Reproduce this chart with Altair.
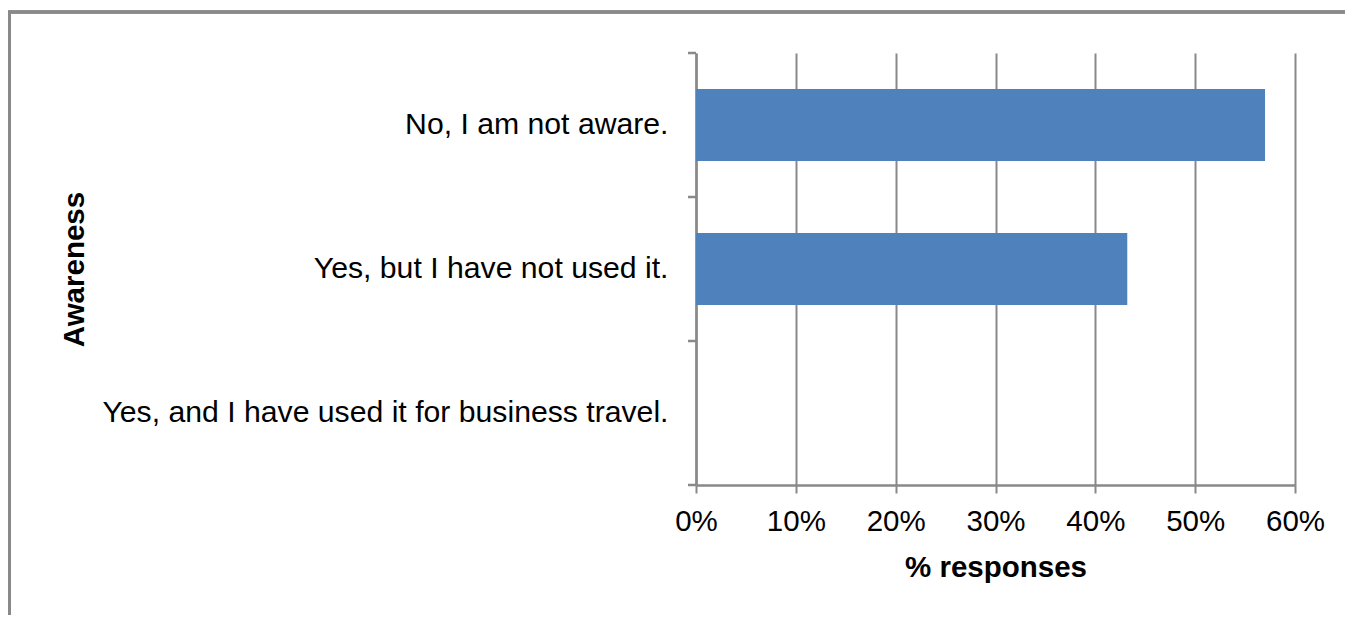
import altair as alt
import pandas as pd

categories = [
    "No, I am not aware.",
    "Yes, but I have not used it.",
    "Yes, and I have used it for business travel.",
]
shares = [0.570, 0.432, 0.0]
x_ticks = [0, 0.1, 0.2, 0.3, 0.4, 0.5, 0.6]
band_edges = [0, 1, 2, 3]

df = pd.DataFrame({"Awareness": categories, "share": shares})
edges = pd.DataFrame({"edge": band_edges})

GRAY = "#898989"
FONT = "Liberation Sans"
W, H = 599, 432

bars = alt.Chart(df).mark_bar(color="#4f81bd").encode(
    x=alt.X(
        "share:Q",
        scale=alt.Scale(domain=[0, 0.6], nice=False),
        axis=alt.Axis(
            values=x_ticks,
            format=".0%",
            title="% responses",
            grid=True,
            gridColor=GRAY,
            gridWidth=2,
            domainColor=GRAY,
            domainWidth=2.5,
            tickColor=GRAY,
            tickWidth=2,
            tickSize=8,
            labelPadding=14,
            labelFlush=False,
            labelOverlap=False,
            labelFont=FONT,
            labelFontSize=29.5,
            labelColor="black",
            titleFont=FONT,
            titleFontSize=29.5,
            titleFontWeight="bold",
            titleColor="black",
            titlePadding=18,
        ),
    ),
    y=alt.Y(
        "Awareness:N",
        sort=categories,
        scale=alt.Scale(domain=categories, paddingInner=0.5, paddingOuter=0.25),
        axis=alt.Axis(
            ticks=False,
            grid=False,
            domainColor=GRAY,
            domainWidth=2.5,
            labelPadding=28,
            labelFont=FONT,
            labelFontSize=30.2,
            labelColor="black",
            labelLimit=700,
            title="Awareness",
            titleFont=FONT,
            titleFontSize=29.5,
            titleFontWeight="bold",
            titleColor="black",
            titleAngle=-90,
            titleX=-622,
            titleY=H / 2,
            titleAlign="center",
            titleBaseline="middle",
        ),
    ),
)

# category-boundary ticks on the y axis
yticks = alt.Chart(edges).mark_rule(color=GRAY, strokeWidth=2.5).encode(
    y=alt.Y("edge:Q", scale=alt.Scale(domain=[0, 3], nice=False), axis=None),
    x=alt.value(-8),
    x2=alt.value(0),
)

# chart frame (top and left edges visible)
frame_left = alt.Chart(edges).mark_rule(color=GRAY, strokeWidth=3).encode(
    x=alt.value(-686.5), y=alt.value(-41), y2=alt.value(700)
)
frame_top = alt.Chart(edges).mark_rule(color=GRAY, strokeWidth=3).encode(
    y=alt.value(-41), x=alt.value(-688), x2=alt.value(800)
)

chart = (
    alt.layer(bars, yticks, frame_left, frame_top)
    .resolve_scale(y="independent")
    .properties(
        width=W,
        height=H,
        autosize=alt.AutoSizeParams(type="none"),
        padding={"left": 688, "top": 45, "right": 50, "bottom": 130},
        background="white",
    )
    .configure_view(stroke=None)
)

chart.save("out.html", embed_options={"renderer": "svg", "actions": False})
